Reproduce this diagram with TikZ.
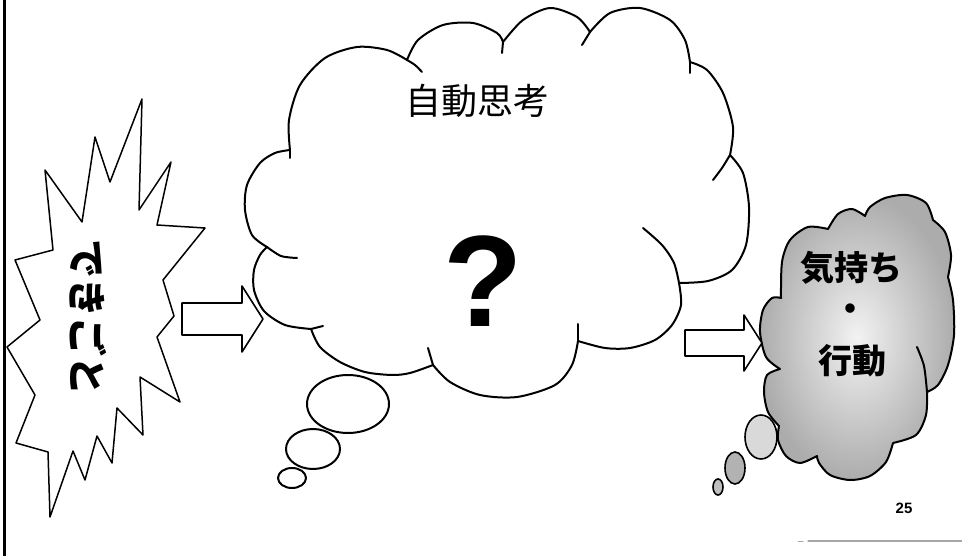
\documentclass[tikz,border=0pt]{standalone}
\usepackage{fontspec}
\usepackage{graphicx}
\setmainfont{Liberation Sans}
\newfontfamily\jp{Noto Sans CJK JP}
\begin{document}
\begin{tikzpicture}[x=1pt,y=-1pt,line join=round,line cap=round,
  burst/.style={draw=black,line width=1.5pt,fill=white},
  cloudline/.style={draw=black,line width=2pt},
  tick/.style={draw=black,line width=2pt},
  blockarrow/.style={draw=black,line width=1.6pt,fill=white},
  bubble/.style={draw=black,line width=2pt,fill=white},
  gbubble/.style={draw=black,line width=1.6pt}]
\useasboundingbox (0,0) rectangle (962,556);
% left border
\draw[line width=3pt] (4.5,0) -- (4.5,556);
% starburst
\draw[burst] (142,99) -- (139,210) -- (171,162) -- (157,225) -- (205,228) -- (163,280) -- (174,316) -- (157,337) -- (180,402) -- (140,377) -- (143,435) -- (117,408) -- (112,463) -- (97,436) -- (85,480) -- (73,451) -- (50,517) -- (48,452) -- (16,443) -- (35,395) -- (7,347) -- (40,320) -- (15,260) -- (53,250) -- (45,170) -- (82,222) -- (95,137) -- (110,182) -- cycle;
\node[inner sep=0pt,font=\jp\bfseries\fontsize{39}{39}\selectfont] (event) at (88,318) {\rotatebox{-90}{できごと}};
% main thought bubbles
\draw[bubble] (292,478) ellipse [x radius=14, y radius=10];
\draw[bubble] (313,449) ellipse [x radius=27, y radius=20];
\draw[bubble] (348,404) ellipse [x radius=41, y radius=29];
% main cloud
\draw[cloudline,fill=white] (290,150)
 -- plot[smooth] coordinates {(290,150) (289,120) (300,85) (325,58) (357,47) (387,50) (407,60)}
 -- plot[smooth] coordinates {(407,60) (418,40) (443,25) (473,23) (497,33) (503,42)}
 -- plot[smooth] coordinates {(503,42) (523,20) (550,8) (577,17) (590,32)}
 -- plot[smooth] coordinates {(590,32) (610,13) (640,8) (670,20) (685,40) (690,62)}
 -- plot[smooth] coordinates {(690,62) (707,70) (723,93) (733,127) (730,155)}
 -- plot[smooth] coordinates {(730,155) (743,173) (749,207) (746,245) (732,270) (708,281) (679,283)}
 -- plot[smooth] coordinates {(679,283) (681,305) (672,325) (655,340) (630,348) (605,348) (578,341)}
 -- plot[smooth] coordinates {(578,341) (572,365) (555,385) (517,397) (480,395) (450,382) (433,365)}
 -- plot[smooth] coordinates {(433,365) (410,373) (392,375) (365,372) (340,362) (320,347) (311,329)}
 -- plot[smooth] coordinates {(311,329) (285,325) (264,311) (254,290) (254,270) (260,255) (267,247)}
 -- plot[smooth] coordinates {(267,247) (252,235) (245,210) (247,185) (260,163) (275,153) (290,150)}
 -- cycle;
% inner ticks of main cloud
\draw[tick] plot[smooth] coordinates {(290,150) (290,158)};
\draw[tick] plot[smooth] coordinates {(407,60) (415,65) (422,72)};
\draw[tick] plot[smooth] coordinates {(503,42) (502,53)};
\draw[tick] plot[smooth] coordinates {(590,32) (582,45)};
\draw[tick] plot[smooth] coordinates {(690,62) (690,73)};
\draw[tick] plot[smooth] coordinates {(730,155) (722,168) (713,180)};
\draw[tick] plot[smooth] coordinates {(643,228) (662,245) (674,263) (679,283)};
\draw[tick] plot[smooth] coordinates {(578,341) (578,324)};
\draw[tick] plot[smooth] coordinates {(433,365) (428,348)};
\draw[tick] plot[smooth] coordinates {(311,329) (323,326)};
\draw[tick] plot[smooth] coordinates {(267,247) (281,256) (297,258)};
\node[font=\jp\fontsize{36}{36}\selectfont] (auto) at (477,101) {自動思考};
\node[font=\bfseries\fontsize{130}{130}\selectfont] (q) at (483,281) {?};
% right thought bubbles
\draw[gbubble,fill=gray!50] (718,487) ellipse [x radius=5, y radius=8];
\draw[gbubble,fill=gray!60] (735,468) ellipse [x radius=10, y radius=16];
\draw[gbubble,fill=gray!30] (761,437) ellipse [x radius=16, y radius=22];
% right cloud
\draw[cloudline,inner color=gray!10,outer color=gray!65] (781,298)
 -- plot[smooth] coordinates {(781,298) (782,262) (790,240) (808,227) (828,229)}
 -- plot[smooth] coordinates {(828,229) (838,214) (852,209) (865,216)}
 -- plot[smooth] coordinates {(865,216) (870,207) (885,198) (907,195) (926,203) (933,220)}
 -- plot[smooth] coordinates {(933,220) (945,232) (951,255) (948,277)}
 -- plot[smooth] coordinates {(948,277) (953,300) (954,335) (948,365) (938,385) (927,392)}
 -- plot[smooth] coordinates {(927,392) (926,415) (916,435) (893,443)}
 -- plot[smooth] coordinates {(893,443) (886,462) (870,476) (850,480) (830,475) (819,463) (817,456)}
 -- plot[smooth] coordinates {(817,456) (800,463) (786,456) (778,440) (779,426)}
 -- plot[smooth] coordinates {(779,426) (768,412) (764,392) (767,375) (780,369)}
 -- plot[smooth] coordinates {(780,369) (766,357) (760,332) (763,310) (772,298) (781,298)}
 -- cycle;
\draw[tick] plot[smooth] coordinates {(917,347) (924,366) (927,392)};
\node[font=\jp\bfseries\fontsize{34}{34}\selectfont] (feel) at (851,268) {気持ち};
\node[font=\jp\bfseries\fontsize{34}{34}\selectfont] (dot) at (850,313) {・};
\node[font=\jp\bfseries\fontsize{34}{34}\selectfont] (act) at (852,361) {行動};
% block arrows
\draw[blockarrow] (182,303) -- (242,303) -- (242,286) -- (263,319) -- (242,352) -- (242,335) -- (182,335) -- cycle;
\draw[blockarrow] (685,330) -- (744,330) -- (744,315) -- (762,343) -- (744,371) -- (744,356) -- (685,356) -- cycle;
% page number and footer rule
\node[font=\bfseries\fontsize{15}{15}\selectfont] (page) at (904,508) {25};
\draw[gray!70,line width=1.2pt] (808,541) -- (962,541);
\draw[gray!70,line width=1pt] (798,541) -- (803,541);
\end{tikzpicture}
\end{document}
